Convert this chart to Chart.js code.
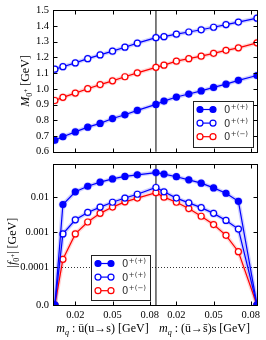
<!DOCTYPE html>
<html>
<head>
<meta charset="utf-8">
<script src="https://cdn.jsdelivr.net/npm/chart.js@4.4.1/dist/chart.umd.min.js"></script>
<style>
  body { margin: 0; background: #fff; }
  #wrap { position: relative; width: 266px; height: 340px; }
  canvas { position: absolute; left: 0; }
  #topChart { top: 0; }
  #bottomChart { top: 154px; }
</style>
</head>
<body>
<div id="wrap">
  <canvas id="topChart" width="266" height="162"></canvas>
  <canvas id="bottomChart" width="266" height="186"></canvas>
</div>
<script>
// quark mass points along each half of the axis [GeV]
const mqValues = [0.0035, 0.01, 0.02, 0.03, 0.04, 0.05, 0.06, 0.07, 0.085];
const halfOffset = 0.0815; // right half starts where the left one ends
const xTickValues = [0.02, 0.05, 0.08];
const xTickLabels = ['0.02', '0.05', '0.08', '0.02', '0.05', '0.08'];

// top panel: M_0+ [GeV]
const massFilled   = [0.673, 0.695, 0.726, 0.756, 0.780, 0.811, 0.835, 0.863, 0.901, 0.922, 0.948, 0.967, 0.987, 1.009, 1.030, 1.054, 1.085];
const massOpenBlue = [1.125, 1.141, 1.165, 1.192, 1.216, 1.240, 1.265, 1.291, 1.326, 1.332, 1.348, 1.362, 1.376, 1.392, 1.409, 1.425, 1.450];
const massOpenRed  = [0.926, 0.946, 0.973, 1.001, 1.027, 1.051, 1.077, 1.102, 1.137, 1.151, 1.176, 1.192, 1.208, 1.226, 1.245, 1.261, 1.293];

// bottom panel: |f_0+| [GeV]
const decayFilled   = [0, 0.00618, 0.0142, 0.0204, 0.0267, 0.0330, 0.0388, 0.0432, 0.0499, 0.0452, 0.0381, 0.0310, 0.0250, 0.0183, 0.0129, 0.0076, 0];
const decayOpenBlue = [0, 0.00090, 0.00226, 0.00367, 0.00521, 0.00714, 0.00942, 0.0121, 0.0188, 0.0142, 0.0094, 0.00688, 0.00503, 0.00345, 0.00217, 0.00123, 0];
const decayOpenRed  = [0, 0.00017, 0.00090, 0.00196, 0.00345, 0.00521, 0.00733, 0.0094, 0.0134, 0.0100, 0.00714, 0.00472, 0.00286, 0.00166, 0.00082, 0.00028, 0];
const decayTickValues = [0, 0.0001, 0.001, 0.01];
const decayTickLabels = ['0.0', '0.0001', '0.001', '0.01'];

const legendLabels = ['+(+)', '+(+)', '+(\u2212)'];
const seriesColors = ['#0000ff', '#0000ff', '#ff0000'];
const seriesFills  = ['#0000ff', '#ffffff', '#ffffff'];
const haloColors   = ['rgba(0,0,255,0.18)', 'rgba(0,0,255,0.18)', 'rgba(255,0,0,0.16)'];

const xPositions = [...mqValues, ...mqValues.slice(1).map(m => m + halfOffset)];
const serif = 'Liberation Serif';
const tickFont = { family: serif, size: 10.5 };

// symmetric log axis: linear below 1e-4, log above
const LIN_THRESH = 1e-4;
const LIN_DECADES = 1.07;
function symlog(v) {
    return v <= LIN_THRESH ? LIN_DECADES * v / LIN_THRESH : LIN_DECADES + Math.log10(v / LIN_THRESH);
}
class SymlogScale extends Chart.LinearScale {
    getPixelForValue(value) {
        const lo = symlog(this.min), hi = symlog(this.max);
        return this.getPixelForDecimal((symlog(value) - lo) / (hi - lo));
    }
}
SymlogScale.id = 'symlog';
SymlogScale.defaults = Chart.LinearScale.defaults;
Chart.register(SymlogScale);

function makeDatasets(seriesList) {
    const pts = arr => arr.map((y, i) => ({ x: xPositions[i], y }));
    const halos = seriesList.map((arr, i) => ({
        data: pts(arr), borderColor: haloColors[i], borderWidth: 4,
        pointRadius: 4.3, pointBackgroundColor: haloColors[i], pointBorderWidth: 0,
        clip: 0, order: 2
    }));
    const lines = seriesList.map((arr, i) => ({
        data: pts(arr), borderColor: seriesColors[i], borderWidth: 1.2,
        pointRadius: 3, pointBorderWidth: 1.2,
        pointBackgroundColor: seriesFills[i], pointBorderColor: seriesColors[i],
        clip: 0, order: 1
    }));
    return [...halos, ...lines];
}

function xScaleOptions(showLabels) {
    return {
        type: 'linear', min: 0.002, max: 0.1665,
        afterBuildTicks: s => {
            s.ticks = [...xTickValues, ...xTickValues.map(v => v + halfOffset)].map(v => ({ value: v }));
        },
        ticks: {
            display: showLabels, autoSkip: false, maxRotation: 0, padding: 4,
            color: '#000', font: tickFont,
            callback: (v, i) => xTickLabels[i]
        },
        grid: { display: false, drawTicks: false },
        border: { display: false },
        afterFit: s => { s.height = showLabels ? 35 : 4; }
    };
}

function drawRich(ctx, parts, cx, cy, rotate) {
    ctx.save();
    ctx.translate(cx, cy);
    if (rotate) ctx.rotate(-Math.PI / 2);
    ctx.textBaseline = 'alphabetic';
    ctx.textAlign = 'left';
    ctx.fillStyle = '#000';
    let width = 0;
    parts.forEach(p => { ctx.font = p.f; width += ctx.measureText(p.t).width; });
    let x = -width / 2;
    parts.forEach(p => {
        ctx.font = p.f;
        ctx.fillText(p.t, x, 4 + (p.dy || 0));
        x += ctx.measureText(p.t).width;
    });
    ctx.restore();
}

function drawLegend(ctx, x, y, w, h) {
    ctx.save();
    ctx.fillStyle = '#fff';
    ctx.fillRect(x, y, w, h);
    ctx.strokeStyle = '#222';
    ctx.lineWidth = 1;
    ctx.strokeRect(x + 0.5, y + 0.5, w, h);
    legendLabels.forEach((sup, i) => {
        const cy = y + 8.5 + i * 13.6;
        ctx.strokeStyle = seriesColors[i];
        ctx.lineWidth = 1.2;
        ctx.beginPath(); ctx.moveTo(x + 7, cy); ctx.lineTo(x + 20, cy); ctx.stroke();
        [x + 7, x + 20].forEach(mx => {
            ctx.beginPath();
            ctx.arc(mx, cy, 3, 0, 2 * Math.PI);
            ctx.fillStyle = seriesFills[i];
            ctx.fill();
            ctx.stroke();
        });
        ctx.fillStyle = '#333';
        ctx.font = '10px "DejaVu Sans"';
        ctx.fillText('0', x + 31, cy + 3.5);
        const w0 = ctx.measureText('0').width;
        ctx.font = '7px "DejaVu Sans"';
        ctx.fillText(sup, x + 31 + w0 + 0.5, cy - 0.5);
    });
    ctx.restore();
}

function makePanelPlugin(cfg) {
    return {
        id: 'panel',
        beforeDatasetsDraw(chart) {
            const { ctx, chartArea: a, scales: { x, y } } = chart;
            ctx.save();
            const dx = x.getPixelForValue(mqValues[mqValues.length - 1]);
            ctx.strokeStyle = '#555';
            ctx.lineWidth = 1.5;
            ctx.beginPath(); ctx.moveTo(dx, a.top); ctx.lineTo(dx, a.bottom); ctx.stroke();
            if (cfg.refLine != null) {
                const ry = Math.round(y.getPixelForValue(cfg.refLine)) + 0.5;
                ctx.strokeStyle = '#000';
                ctx.lineWidth = 0.8;
                ctx.setLineDash([1, 2]);
                ctx.beginPath(); ctx.moveTo(a.left, ry); ctx.lineTo(a.right, ry); ctx.stroke();
            }
            ctx.restore();
        },
        afterDatasetsDraw(chart) {
            const { ctx, chartArea: a } = chart;
            const lx = cfg.legendLeft != null ? a.left + cfg.legendLeft : a.right - cfg.legendRight - cfg.legendW;
            drawLegend(ctx, Math.round(lx), Math.round(a.bottom - 5 - cfg.legendH), cfg.legendW, cfg.legendH);
        },
        afterDraw(chart) {
            const { ctx, chartArea: a, scales: { x, y } } = chart;
            ctx.save();
            ctx.strokeStyle = '#000';
            ctx.lineWidth = 1;
            const L = Math.round(a.left) + 0.5, T = Math.round(a.top) + 0.5;
            const R = Math.round(a.right) + 0.5, B = Math.round(a.bottom) + 0.5;
            ctx.strokeRect(L, T, R - L, B - T);
            ctx.beginPath();
            x.ticks.forEach(t => {
                const px = Math.round(x.getPixelForValue(t.value)) + 0.5;
                ctx.moveTo(px, T); ctx.lineTo(px, T + 4);
                ctx.moveTo(px, B); ctx.lineTo(px, B - 4);
            });
            y.ticks.forEach(t => {
                const py = Math.round(y.getPixelForValue(t.value)) + 0.5;
                ctx.moveTo(L, py); ctx.lineTo(L + 4, py);
                ctx.moveTo(R, py); ctx.lineTo(R - 4, py);
            });
            ctx.stroke();
            ctx.restore();

            drawRich(ctx, cfg.yTitle, cfg.yTitleX, (a.top + a.bottom) / 2 + cfg.yTitleShift, true);
            if (cfg.xTitles) {
                const mid = x.getPixelForValue(mqValues[mqValues.length - 1]);
                const ty = a.bottom + 23;
                drawRich(ctx, [
                    { t: 'm', f: `italic 12px ${serif}` },
                    { t: 'q', f: `italic 8px ${serif}`, dy: 2.5 },
                    { t: ' : \u016b(u\u2192s) [GeV]', f: `12px ${serif}` }
                ], (a.left + mid) / 2 - 2, ty, false);
                drawRich(ctx, [
                    { t: 'm', f: `italic 12px ${serif}` },
                    { t: 'q', f: `italic 8px ${serif}`, dy: 2.5 },
                    { t: ' : (\u016b\u2192s\u0304)s [GeV]', f: `12px ${serif}` }
                ], (mid + a.right) / 2 - 2, ty, false);
            }
        }
    };
}

const baseOptions = (padTop) => ({
    responsive: false,
    animation: false,
    layout: { padding: { top: padTop, right: 9, left: 0, bottom: 0 } },
    plugins: { legend: { display: false }, tooltip: { enabled: false } }
});

new Chart(document.getElementById('topChart'), {
    type: 'line',
    data: { datasets: makeDatasets([massFilled, massOpenBlue, massOpenRed]) },
    options: {
        ...baseOptions(10),
        scales: {
            x: xScaleOptions(false),
            y: {
                type: 'linear', min: 0.6, max: 1.5,
                afterFit: s => { s.width = 53; },
                ticks: { stepSize: 0.1, padding: 4, color: '#000', font: tickFont, callback: v => v.toFixed(1) },
                grid: { display: false, drawTicks: false },
                border: { display: false }
            }
        }
    },
    plugins: [makePanelPlugin({
        legendRight: 4, legendW: 60, legendH: 46,
        yTitle: [
            { t: 'M', f: `italic 12px ${serif}` },
            { t: '0', f: `8px ${serif}`, dy: 3 },
            { t: '+', f: `7px ${serif}`, dy: -1.5 },
            { t: ' [GeV]', f: `12px ${serif}` }
        ],
        yTitleX: 25,
        yTitleShift: 0
    })]
});

new Chart(document.getElementById('bottomChart'), {
    type: 'line',
    data: { datasets: makeDatasets([decayFilled, decayOpenBlue, decayOpenRed]) },
    options: {
        ...baseOptions(4),
        scales: {
            x: xScaleOptions(true),
            y: {
                type: 'symlog', min: 0, max: 0.086,
                afterFit: s => { s.width = 53; },
                afterBuildTicks: s => { s.ticks = decayTickValues.map(v => ({ value: v })); },
                ticks: { autoSkip: false, padding: 4, color: '#000', font: tickFont, callback: (v, i) => decayTickLabels[i] },
                grid: { display: false, drawTicks: false },
                border: { display: false }
            }
        }
    },
    plugins: [makePanelPlugin({
        refLine: 0.0001,
        legendLeft: 38, legendW: 59, legendH: 45,
        yTitle: [
            { t: '|', f: `12px ${serif}` },
            { t: 'f', f: `italic 12px ${serif}` },
            { t: '0', f: `8px ${serif}`, dy: 3 },
            { t: '+', f: `7px ${serif}`, dy: -1.5 },
            { t: '| [GeV]', f: `12px ${serif}` }
        ],
        yTitleX: 12,
        yTitleShift: 8,
        xTitles: true
    })]
});
</script>
</body>
</html>
